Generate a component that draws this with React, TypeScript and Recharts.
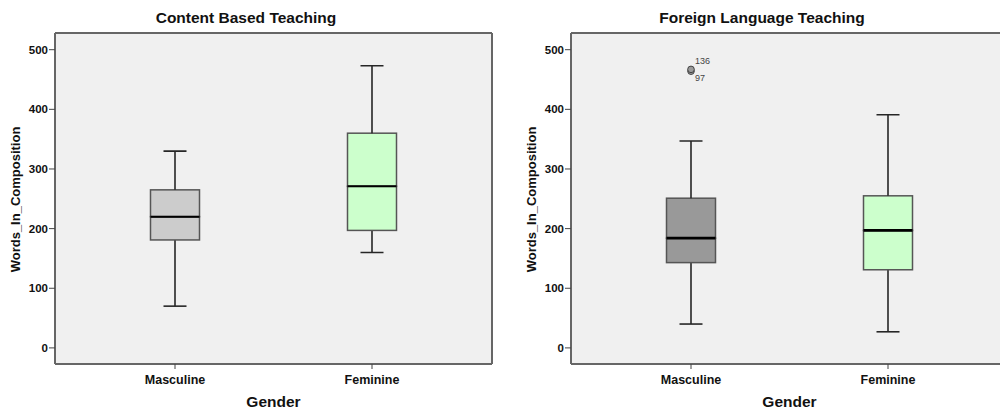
import React from 'react';
import { ComposedChart, Bar, Scatter, XAxis, YAxis, CartesianGrid, Cell } from 'recharts';

const FONT = '"Liberation Sans", Arial, sans-serif';

const categories = ['Masculine', 'Feminine'];
const yTicks = [0, 100, 200, 300, 400, 500];

// Content Based Teaching: five-number summaries per gender
const cbtMin = [70, 160];
const cbtQ1 = [181, 197];
const cbtMedian = [220, 271];
const cbtQ3 = [265, 360];
const cbtMax = [330, 473];

// Foreign Language Teaching
const fltMin = [40, 27];
const fltQ1 = [143, 131];
const fltMedian = [184, 197];
const fltQ3 = [251, 255];
const fltMax = [347, 391];
// two cases sit on top of each other above the masculine whisker
const fltOutlierIds = ['136', '97'];
const fltOutlier136 = [467, null];
const fltOutlier97 = [464, null];

const BOX_W = 49;
const CAP_W = 23;
const LINE = '#262626';
const BOX_STROKE = '#555555';
const FRAME = '#666666';

function buildRows(min: number[], q1: number[], med: number[], q3: number[], max: number[]) {
    return categories.map((g, i) => ({
        gender: g,
        base: min[i],
        lowWhisker: q1[i] - min[i],
        lowBox: med[i] - q1[i],
        highBox: q3[i] - med[i],
        highWhisker: max[i] - q3[i],
    }));
}

const cbtRows = buildRows(cbtMin, cbtQ1, cbtMedian, cbtQ3, cbtMax);
const fltRows = buildRows(fltMin, fltQ1, fltMedian, fltQ3, fltMax).map((r, i) => ({
    ...r,
    out136: fltOutlier136[i],
    out97: fltOutlier97[i],
}));

const WhiskerLow = (props: any) => {
    const { x, y, width, height } = props;
    const cx = x + width / 2;
    const yb = y + height;
    return (
        <g>
            <line x1={cx} y1={y} x2={cx} y2={yb} stroke={LINE} strokeWidth={1.6} />
            <line x1={cx - CAP_W / 2} y1={yb} x2={cx + CAP_W / 2} y2={yb} stroke={LINE} strokeWidth={1.6} />
        </g>
    );
};

const WhiskerHigh = (props: any) => {
    const { x, y, width, height } = props;
    const cx = x + width / 2;
    return (
        <g>
            <line x1={cx} y1={y} x2={cx} y2={y + height} stroke={LINE} strokeWidth={1.6} />
            <line x1={cx - CAP_W / 2} y1={y} x2={cx + CAP_W / 2} y2={y} stroke={LINE} strokeWidth={1.6} />
        </g>
    );
};

const BoxHalf = (props: any) => (
    <rect x={props.x} y={props.y} width={props.width} height={props.height}
        fill={props.fill} stroke={BOX_STROKE} strokeWidth={1.5} />
);

// upper half of the box also carries the median line along its bottom edge
const makeBoxUpper = (medianWidth: number) => (props: any) => {
    const { x, y, width, height, fill } = props;
    return (
        <g>
            <rect x={x} y={y} width={width} height={height} fill={fill} stroke={BOX_STROKE} strokeWidth={1.5} />
            <line x1={x} y1={y + height} x2={x + width} y2={y + height} stroke="#000" strokeWidth={medianWidth} />
        </g>
    );
};

const makeOutlier = (id: string, above: boolean) => (props: any) => {
    const { cx, cy } = props;
    if (cx == null || cy == null || Number.isNaN(cy)) return <g />;
    return (
        <g>
            <circle cx={cx} cy={cy} r={3.3} fill="#9a9a9a" stroke="#444" strokeWidth={1} />
            <text x={cx + 4} y={above ? cy - 5 : cy + 10} fontSize={9} fill="#444" fontFamily={FONT}>{id}</text>
        </g>
    );
};

const yLabel = (props: any) => {
    const vb = props.viewBox || { x: 0, y: 33, width: 55, height: 331 };
    const cx = vb.x + 15.5;
    const cy = vb.y + vb.height / 2 + 1;
    return (
        <text x={cx} y={cy} transform={`rotate(-90, ${cx}, ${cy})`} textAnchor="middle" dominantBaseline="central"
            fontSize={13} fontWeight="bold" fontFamily={FONT} fill="#111">
            Words_In_Composition
        </text>
    );
};

const xLabel = (props: any) => {
    const vb = props.viewBox || { x: 55, y: 364, width: 437, height: 45 };
    return (
        <text x={vb.x + vb.width / 2} y={vb.y + 43} textAnchor="middle"
            fontSize={15.5} fontWeight="bold" fontFamily={FONT} fill="#111">
            Gender
        </text>
    );
};

// grid lines only on the plot edges, so the grid acts as the frame
const frameRows = ({ offset }: any) => [offset.top, offset.top + offset.height];
const frameCols = ({ offset }: any) => [offset.left, offset.left + offset.width];

function GroupBoxPlot({ title, rows, fills, medianWidth, left, outliers }: {
    title: string; rows: any[]; fills: string[]; medianWidth: number; left: number; outliers?: boolean;
}) {
    const tickStyle = { fontSize: 11.5, fontWeight: 'bold' as const, fill: '#111', fontFamily: FONT };
    return (
        <div style={{ position: 'absolute', left, top: 0, width: 500, height: 409 }}>
            <div style={{
                position: 'absolute', left: 0, width: 492, top: 9, textAlign: 'center',
                fontFamily: FONT, fontWeight: 'bold', fontSize: 15.5, color: '#111', lineHeight: '18px',
            }}>{title}</div>
            <ComposedChart width={500} height={409} data={rows} margin={{ top: 33, right: 8, bottom: 0, left: 0 }}>
                <CartesianGrid fill="#f0f0f0" stroke={FRAME} strokeWidth={2}
                    horizontalCoordinatesGenerator={frameRows} verticalCoordinatesGenerator={frameCols} />
                <XAxis dataKey="gender" type="category" height={45} padding={{ left: 21.5, right: 21.5 }}
                    axisLine={{ stroke: FRAME, strokeWidth: 2 }} tickLine={{ stroke: '#444' }} tickSize={5} tickMargin={6}
                    tick={{ ...tickStyle, fontSize: 12.5 }} interval={0} label={{ content: xLabel }} />
                <YAxis type="number" domain={[-27, 528]} ticks={yTicks} allowDataOverflow width={55}
                    axisLine={{ stroke: FRAME, strokeWidth: 2 }} tickLine={{ stroke: '#444' }} tickSize={6} tickMargin={1}
                    tick={tickStyle} label={{ content: yLabel }} />
                <Bar dataKey="base" stackId="b" barSize={BOX_W} fill="transparent" isAnimationActive={false} />
                <Bar dataKey="lowWhisker" stackId="b" barSize={BOX_W} shape={WhiskerLow} isAnimationActive={false} />
                <Bar dataKey="lowBox" stackId="b" barSize={BOX_W} shape={BoxHalf} isAnimationActive={false}>
                    {rows.map((r, i) => <Cell key={r.gender} fill={fills[i]} />)}
                </Bar>
                <Bar dataKey="highBox" stackId="b" barSize={BOX_W} shape={makeBoxUpper(medianWidth)} isAnimationActive={false}>
                    {rows.map((r, i) => <Cell key={r.gender} fill={fills[i]} />)}
                </Bar>
                <Bar dataKey="highWhisker" stackId="b" barSize={BOX_W} shape={WhiskerHigh} isAnimationActive={false} />
                {outliers && (
                    <Scatter dataKey="out97" shape={makeOutlier(fltOutlierIds[1], false)} isAnimationActive={false} />
                )}
                {outliers && (
                    <Scatter dataKey="out136" shape={makeOutlier(fltOutlierIds[0], true)} isAnimationActive={false} />
                )}
            </ComposedChart>
        </div>
    );
}

export default function App() {
    return (
        <div style={{ position: 'absolute', left: 0, top: 0, width: 1000, height: 409, overflow: 'hidden', background: '#fff' }}>
            <GroupBoxPlot title="Content Based Teaching" rows={cbtRows} fills={['#cccccc', '#ccffcc']}
                medianWidth={2} left={0} />
            <GroupBoxPlot title="Foreign Language Teaching" rows={fltRows} fills={['#999999', '#ccffcc']}
                medianWidth={2.6} left={516} outliers />
        </div>
    );
}
